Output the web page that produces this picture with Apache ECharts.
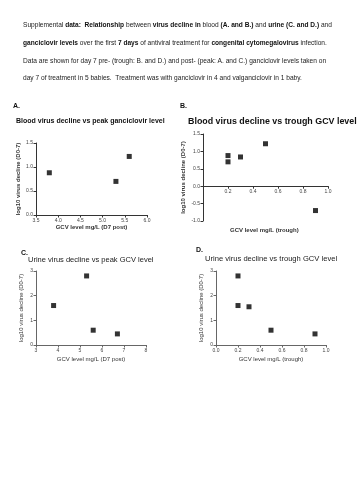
<!DOCTYPE html>
<html><head><meta charset="utf-8">
<script src="https://cdn.jsdelivr.net/npm/echarts@6/dist/echarts.min.js"></script>
<style>html,body{margin:0;padding:0;background:#fff}#c{width:360px;height:480px}</style>
</head><body><div id="c"></div>
<script>
// Panel A: blood decline vs peak GCV
const peakBloodX = [3.8, 5.3, 5.6];
const peakBloodY = [0.88, 0.70, 1.22];
// Panel B: blood decline vs trough GCV
const troughBloodX = [0.2, 0.2, 0.3, 0.5, 0.9];
const troughBloodY = [0.88, 0.70, 0.84, 1.22, -0.70];
// Panel C: urine decline vs peak GCV
const peakUrineX = [3.8, 5.3, 5.6, 6.7];
const peakUrineY = [1.6, 2.8, 0.6, 0.45];
// Panel D: urine decline vs trough GCV
const troughUrineX = [0.2, 0.2, 0.3, 0.5, 0.9];
const troughUrineY = [2.8, 1.6, 1.55, 0.6, 0.45];

const panelTitles = [
  'Blood virus decline vs peak ganciclovir level',
  'Blood virus decline vs trough GCV level',
  'Urine virus decline vs peak GCV level',
  'Urine virus decline vs trough GCV level'
];
const yName = 'log10 virus decline (D0-7)';
const xNames = ['GCV level mg/L (D7 post)', 'GCV level mg/L (trough)', 'GCV level mg/L (D7 post)', 'GCV level mg/L (trough)'];

const captionLines = [
  'Supplemental {b|data:}  {b|Relationship} between {b|virus decline in} blood {b|(A. and B.)} and {b|urine (C. and D.)} and',
  '{b|ganciclovir levels} over the first {b|7 days} of antiviral treatment for {b|congenital cytomegalovirus} infection.',
  'Data are shown for day 7 pre- (trough: B. and D.) and post- (peak: A. and C.) ganciclovir levels taken on',
  'day 7 of treatment in 5 babies.  Treatment was with ganciclovir in 4 and valganciclovir in 1 baby.'
];

const FONT = 'Liberation Sans, Arial, sans-serif';
const pairs = (xs, ys) => xs.map((x, i) => [x, ys[i]]);

function xAxis(gi, min, max, interval, digits, name, color, gap, opts) {
  opts = opts || {};
  return {
    type: 'value', gridIndex: gi, min, max, interval,
    name: name, nameLocation: 'middle', nameGap: gap,
    nameTextStyle: { fontSize: 6, color: '#333', fontFamily: FONT, fontWeight: opts.bold ? 'bold' : 'normal' },
    axisLine: { show: opts.line !== false, onZero: false, lineStyle: { color, width: 1 } },
    axisTick: { show: opts.ticks !== false, length: 2.5, lineStyle: { color } },
    axisLabel: { show: opts.labels !== false, fontSize: 5, color: '#444', margin: 3, fontFamily: FONT,
      formatter: v => (opts.hideZero && v === 0) ? '' : v.toFixed(digits) },
    splitLine: { show: false }
  };
}
function yAxis(gi, min, max, interval, digits, color, gap, opts) {
  opts = opts || {};
  return {
    type: 'value', gridIndex: gi, min, max, interval,
    name: opts.hidden ? '' : yName, nameLocation: 'middle', nameRotate: 90, nameGap: gap,
    nameTextStyle: { fontSize: 6, color: '#333', fontFamily: FONT, fontWeight: opts.bold ? 'bold' : 'normal' },
    axisLine: { show: !opts.hidden, onZero: false, lineStyle: { color, width: 1 } },
    axisTick: { show: !opts.hidden, length: 2.5, lineStyle: { color } },
    axisLabel: { show: !opts.hidden, fontSize: 5, color: '#444', margin: 3, fontFamily: FONT, formatter: v => v.toFixed(digits) },
    splitLine: { show: false }
  };
}
function scatter(i, data) {
  return { type: 'scatter', xAxisIndex: i, yAxisIndex: i, data, symbol: 'rect', symbolSize: 5,
    itemStyle: { color: '#000' }, silent: true, animation: false };
}

const chart = echarts.init(document.getElementById('c'), null, { renderer: 'canvas' });
chart.setOption({
  backgroundColor: '#fff',
  animation: false,
  textStyle: { fontFamily: FONT },
  grid: [
    { left: 36, top: 143, width: 111, height: 72 },
    { left: 203, top: 134, width: 125, height: 87 },
    { left: 36, top: 271, width: 110, height: 74 },
    { left: 216, top: 271, width: 110, height: 74 },
    // upper half of panel B (y from 0 to 1.5) carrying the x axis drawn at y = 0
    { left: 203, top: 134, width: 125, height: 52.2 }
  ],
  xAxis: [
    xAxis(0, 3.5, 6.0, 0.5, 1, xNames[0], '#333', 9, { bold: true }),
    xAxis(1, 0, 1.0, 0.2, 1, '', '#333', 9, { line: false, ticks: false, labels: false }),
    xAxis(2, 3, 8, 1, 0, xNames[2], '#666', 11, {}),
    xAxis(3, 0, 1.0, 0.2, 1, xNames[3], '#666', 11, {}),
    xAxis(4, 0, 1.0, 0.2, 1, '', '#333', 9, { hideZero: true })
  ],
  yAxis: [
    yAxis(0, 0, 1.5, 0.5, 1, '#333', 15, { bold: true }),
    yAxis(1, -1.0, 1.5, 0.5, 1, '#333', 17, { bold: true }),
    yAxis(2, 0, 3, 1, 0, '#666', 12, {}),
    yAxis(3, 0, 3, 1, 0, '#666', 12, {}),
    yAxis(4, 0, 1.5, 0.5, 1, '#333', 10, { hidden: true })
  ],
  series: [
    scatter(0, pairs(peakBloodX, peakBloodY)),
    scatter(1, pairs(troughBloodX, troughBloodY)),
    scatter(2, pairs(peakUrineX, peakUrineY)),
    scatter(3, pairs(troughUrineX, troughUrineY))
  ],
  graphic: [
    ...captionLines.map((t, i) => ({
      type: 'text', left: 23, top: [22, 40, 58, 75][i], silent: true,
      style: { text: t, fontSize: 6.6, fontFamily: FONT, fill: '#222',
        rich: { b: { fontWeight: 'bold', fontSize: 6.6, fontFamily: FONT, fill: '#111' } } }
    })),
    { type: 'text', left: 13, top: 103, style: { text: 'A.', fontSize: 7, fontWeight: 'bold', fontFamily: FONT, fill: '#111' } },
    { type: 'text', left: 180, top: 103, style: { text: 'B.', fontSize: 7, fontWeight: 'bold', fontFamily: FONT, fill: '#111' } },
    { type: 'text', left: 21, top: 250, style: { text: 'C.', fontSize: 7, fontWeight: 'bold', fontFamily: FONT, fill: '#111' } },
    { type: 'text', left: 196, top: 247, style: { text: 'D.', fontSize: 7, fontWeight: 'bold', fontFamily: FONT, fill: '#111' } },
    { type: 'text', left: 16, top: 118, style: { text: panelTitles[0], fontSize: 7, fontWeight: 'bold', fontFamily: FONT, fill: '#111' } },
    { type: 'text', left: 188, top: 117, style: { text: panelTitles[1], fontSize: 8.9, fontWeight: 'bold', fontFamily: FONT, fill: '#111' } },
    { type: 'text', left: 28, top: 256, style: { text: panelTitles[2], fontSize: 7.5, fontFamily: FONT, fill: '#222' } },
    { type: 'text', left: 205, top: 255, style: { text: panelTitles[3], fontSize: 7.6, fontFamily: FONT, fill: '#222' } },
    { type: 'text', left: 230, top: 227, style: { text: xNames[1], fontSize: 6, fontWeight: 'bold', fontFamily: FONT, fill: '#333' } }
  ]
});
</script></body></html>
